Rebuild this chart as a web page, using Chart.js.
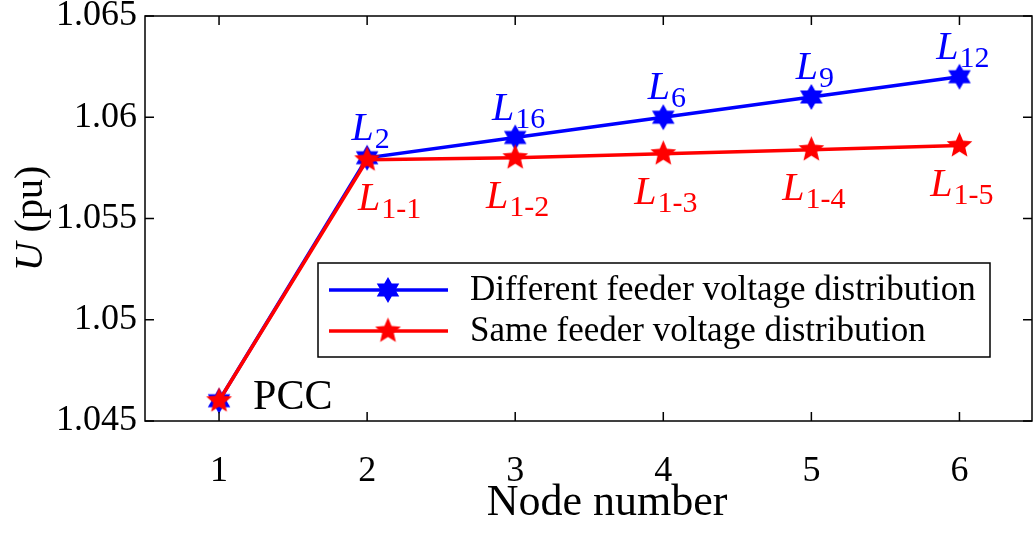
<!DOCTYPE html>
<html>
<head>
<meta charset="utf-8">
<script src="https://cdn.jsdelivr.net/npm/chart.js@4/dist/chart.umd.min.js"></script>
<style>
  body { margin: 0; background: #fff; overflow: hidden; }
  #wrap { width: 1041px; height: 534px; }
</style>
</head>
<body>
<div id="wrap"><canvas id="voltChart"></canvas></div>
<script>
// data
const nodes = [1, 2, 3, 4, 5, 6];
const diffFeeder = [1.046, 1.058, 1.059, 1.060, 1.061, 1.062];
const sameFeeder = [1.046, 1.0579, 1.0580, 1.0582, 1.0584, 1.0586];
const diffNames = ['', '2', '16', '6', '9', '12'];
const sameNames = ['', '1-1', '1-2', '1-3', '1-4', '1-5'];
const xTicks = [1, 2, 3, 4, 5, 6];
const yTicks = [1.045, 1.05, 1.055, 1.06, 1.065];

const SERIF = '"Liberation Serif", "Times New Roman", serif';
const BLUE = '#0000ff';
const RED = '#ff0000';
const VIEW_W = 1033;

// filled star markers (matlab hexagram / pentagram)
function makeStar(n, inner, r, color) {
  const s = Math.ceil(r * 2 + 4);
  const c = document.createElement('canvas');
  c.width = s; c.height = s;
  const g = c.getContext('2d');
  g.beginPath();
  for (let i = 0; i < n * 2; i++) {
    const rad = i % 2 ? r * inner : r;
    const a = -Math.PI / 2 + i * Math.PI / n;
    g.lineTo(s / 2 + rad * Math.cos(a), s / 2 + rad * Math.sin(a));
  }
  g.closePath();
  g.fillStyle = color;
  g.fill();
  return c;
}
const hexMark = makeStar(6, 0.577, 13, BLUE);
const pentMark = makeStar(5, 0.45, 13.5, RED);

function drawSub(ctx, sub, cx, base, color) {
  ctx.fillStyle = color;
  ctx.textBaseline = 'alphabetic';
  ctx.textAlign = 'left';
  ctx.font = 'italic 40px ' + SERIF;
  const w1 = ctx.measureText('L').width;
  ctx.font = '30px ' + SERIF;
  const w2 = ctx.measureText(sub).width;
  const x0 = cx - (w1 + w2) / 2;
  ctx.font = 'italic 40px ' + SERIF;
  ctx.fillText('L', x0, base);
  ctx.font = '30px ' + SERIF;
  ctx.fillText(sub, x0 + w1 + 1, base + 8);
}

const decorPlugin = {
  id: 'decor',
  afterDraw(chart) {
    const { ctx, chartArea: a, scales: { x, y } } = chart;
    const right = Math.min(a.right, VIEW_W) - 1;
    ctx.save();
    // box + inward ticks
    ctx.strokeStyle = '#000';
    ctx.lineWidth = 1.5;
    ctx.strokeRect(a.left, a.top, right - a.left, a.bottom - a.top);
    ctx.beginPath();
    xTicks.forEach(v => {
      const px = x.getPixelForValue(v);
      ctx.moveTo(px, a.bottom); ctx.lineTo(px, a.bottom - 9);
      ctx.moveTo(px, a.top); ctx.lineTo(px, a.top + 9);
    });
    yTicks.forEach(v => {
      const py = y.getPixelForValue(v);
      ctx.moveTo(a.left, py); ctx.lineTo(a.left + 9, py);
      ctx.moveTo(right, py); ctx.lineTo(right - 9, py);
    });
    ctx.stroke();

    // point labels
    nodes.forEach((n, i) => {
      const px = x.getPixelForValue(n);
      if (diffNames[i]) drawSub(ctx, diffNames[i], px + 3, y.getPixelForValue(diffFeeder[i]) - 18, BLUE);
      if (sameNames[i]) drawSub(ctx, sameNames[i], px + (i === 1 ? 22 : 2), y.getPixelForValue(sameFeeder[i]) + 50, RED);
    });
    ctx.fillStyle = '#000';
    ctx.font = '42px ' + SERIF;
    ctx.textAlign = 'left';
    ctx.textBaseline = 'alphabetic';
    ctx.fillText('PCC', x.getPixelForValue(nodes[0]) + 34, y.getPixelForValue(diffFeeder[0]) + 8);

    // legend
    const lx = 318, ly = 263, lw = 672, lh = 94;
    ctx.fillStyle = '#fff';
    ctx.fillRect(lx, ly, lw, lh);
    ctx.strokeStyle = '#000';
    ctx.lineWidth = 1.5;
    ctx.strokeRect(lx, ly, lw, lh);
    chart.data.datasets.forEach((ds, i) => {
      const ry = ly + 27 + i * 41;
      ctx.strokeStyle = ds.borderColor;
      ctx.lineWidth = 3.5;
      ctx.beginPath();
      ctx.moveTo(lx + 11, ry); ctx.lineTo(lx + 130, ry);
      ctx.stroke();
      const m = ds.pointStyle;
      ctx.drawImage(m, lx + 70 - m.width / 2, ry - m.height / 2);
      ctx.fillStyle = '#000';
      ctx.font = '35px ' + SERIF;
      ctx.textBaseline = 'middle';
      ctx.fillText(ds.label, lx + 152, ry + 1);
    });

    // axis titles
    ctx.fillStyle = '#000';
    ctx.textBaseline = 'alphabetic';
    ctx.textAlign = 'center';
    ctx.font = '44px ' + SERIF;
    ctx.fillText('Node number', 607, 515);

    ctx.translate(42, (a.top + a.bottom) / 2);
    ctx.rotate(-Math.PI / 2);
    ctx.font = 'italic 40px ' + SERIF;
    const wU = ctx.measureText('U').width;
    ctx.font = '40px ' + SERIF;
    const wR = ctx.measureText(' (pu)').width;
    ctx.textAlign = 'left';
    ctx.font = 'italic 40px ' + SERIF;
    ctx.fillText('U', -(wU + wR) / 2, 0);
    ctx.font = '40px ' + SERIF;
    ctx.fillText(' (pu)', -(wU + wR) / 2 + wU, 0);
    ctx.restore();
  }
};

new Chart(document.getElementById('voltChart'), {
  type: 'line',
  data: {
    datasets: [{
      label: 'Different feeder voltage distribution',
      data: nodes.map((n, i) => ({ x: n, y: diffFeeder[i] })),
      borderColor: BLUE,
      backgroundColor: BLUE,
      borderWidth: 3.5,
      pointStyle: hexMark,
      order: 1
    }, {
      label: 'Same feeder voltage distribution',
      data: nodes.map((n, i) => ({ x: n, y: sameFeeder[i] })),
      borderColor: RED,
      backgroundColor: RED,
      borderWidth: 3.5,
      pointStyle: pentMark,
      order: 0
    }]
  },
  options: {
    responsive: true,
    maintainAspectRatio: false,
    animation: false,
    events: [],
    layout: { padding: { top: 16, right: 0, left: 0, bottom: 0 } },
    plugins: {
      legend: { display: false },
      tooltip: { enabled: false }
    },
    scales: {
      x: {
        type: 'linear',
        min: 0.5, max: 6.5,
        afterBuildTicks: s => { s.ticks = xTicks.map(v => ({ value: v })); },
        afterFit: s => { s.height = 113; s.paddingLeft = 0; s.paddingRight = 0; },
        grid: { display: false, drawTicks: false },
        border: { display: false },
        ticks: { color: '#000', font: { family: SERIF, size: 36 }, padding: 29, maxRotation: 0 }
      },
      y: {
        min: 1.045, max: 1.065,
        afterBuildTicks: s => { s.ticks = yTicks.map(v => ({ value: v })); },
        afterFit: s => { s.width = 145; s.paddingTop = 0; s.paddingBottom = 0; },
        grid: { display: false, drawTicks: false },
        border: { display: false },
        ticks: {
          color: '#000', font: { family: SERIF, size: 36 }, padding: 8,
          callback: v => String(Number(v.toFixed(3)))
        }
      }
    }
  },
  plugins: [decorPlugin]
});
</script>
</body>
</html>
